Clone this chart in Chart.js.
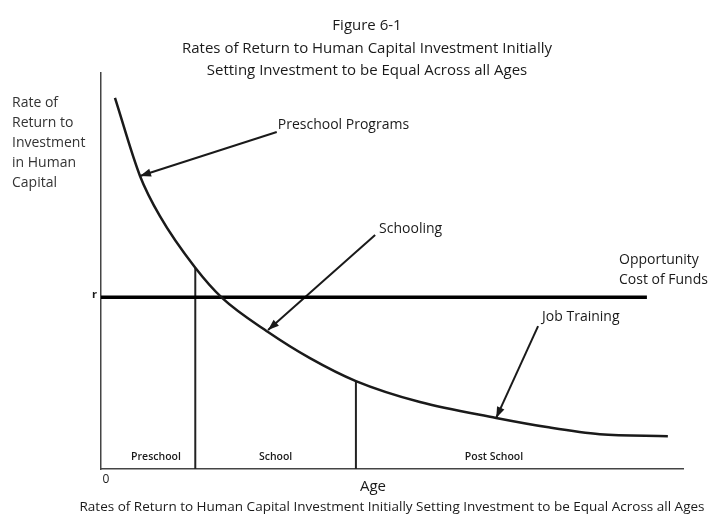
<!DOCTYPE html>
<html>
<head>
<meta charset="utf-8">
<script src="https://cdn.jsdelivr.net/npm/chart.js@4.4.0/dist/chart.umd.min.js"></script>
<style>
  html, body { margin: 0; padding: 0; background: #fff; }
</style>
</head>
<body>
<canvas id="returnsChart" width="715" height="516"></canvas>
<script>
// curve of returns (x = age, y = rate of return)
const curveX = [2.4, 6.7, 10.1, 16.2, 20.8, 28.7, 35.9, 43.8, 54.8, 67.9, 76.6, 85.7, 97.4];
const curveY = [93.7, 74.0, 63.9, 50.8, 43.2, 34.6, 28.0, 22.2, 16.9, 12.9, 10.6, 8.8, 8.3];

// opportunity cost of funds
const rateY = 43.4;
const rateEndX = 93.8;

// stage boundaries (preschool | school | post school)
const boundaryX = [16.2, 43.8];
const boundaryTop = [50.8, 22.2];
const stageLabels = ['Preschool', 'School', 'Post School'];

// pointer arrows: label, tail, head
const arrowLabels = ['Preschool Programs', 'Schooling', 'Job Training'];
const arrowTailX = [30.2, 47.1, 75.1];
const arrowTailY = [85.1, 59.1, 36.1];
const arrowHeadX = [6.7, 28.7, 67.9];
const arrowHeadY = [74.0, 35.1, 12.9];

const titleLines = ['Figure 6-1', 'Rates of Return to Human Capital Investment Initially', 'Setting Investment to be Equal Across all Ages'];
const yTitle = ['Rate of', 'Return to', 'Investment', 'in Human', 'Capital'];
const caption = 'Rates of Return to Human Capital Investment Initially Setting Investment to be Equal Across all Ages';

const FONT = '"Open Sans", "DejaVu Sans", sans-serif';
const INK = '#1a1a1a';

const datasets = [];
datasets.push({
    data: curveX.map((x, i) => ({ x: x, y: curveY[i] })),
    borderColor: INK, borderWidth: 2.5, cubicInterpolationMode: 'monotone'
});
datasets.push({
    data: [{ x: 0, y: rateY }, { x: rateEndX, y: rateY }],
    borderColor: '#000', borderWidth: 3.5
});
boundaryX.forEach((x, i) => {
    datasets.push({
        data: [{ x: x, y: 0 }, { x: x, y: boundaryTop[i] }],
        borderColor: '#222', borderWidth: 2
    });
});
arrowLabels.forEach((lbl, i) => {
    datasets.push({
        data: [{ x: arrowTailX[i], y: arrowTailY[i] }, { x: arrowHeadX[i], y: arrowHeadY[i] }],
        borderColor: INK, borderWidth: 2
    });
});

const textPlugin = {
    id: 'figureText',
    afterDatasetsDraw(chart) {
        const ctx = chart.ctx;
        const xs = chart.scales.x, ys = chart.scales.y;
        ctx.save();
        ctx.fillStyle = INK;
        ctx.textBaseline = 'middle';

        // arrowheads
        arrowLabels.forEach((lbl, i) => {
            const tx = xs.getPixelForValue(arrowTailX[i]), ty = ys.getPixelForValue(arrowTailY[i]);
            const hx = xs.getPixelForValue(arrowHeadX[i]), hy = ys.getPixelForValue(arrowHeadY[i]);
            const a = Math.atan2(hy - ty, hx - tx);
            ctx.beginPath();
            ctx.moveTo(hx, hy);
            ctx.lineTo(hx - 11 * Math.cos(a) + 4 * Math.sin(a), hy - 11 * Math.sin(a) - 4 * Math.cos(a));
            ctx.lineTo(hx - 11 * Math.cos(a) - 4 * Math.sin(a), hy - 11 * Math.sin(a) + 4 * Math.cos(a));
            ctx.closePath();
            ctx.fill();
        });

        // arrow labels
        ctx.font = '14px ' + FONT;
        ctx.textAlign = 'left';
        const offs = [[1, -7], [4, -6], [4, -9]];
        arrowLabels.forEach((lbl, i) => {
            const tx = xs.getPixelForValue(arrowTailX[i]), ty = ys.getPixelForValue(arrowTailY[i]);
            ctx.fillText(lbl, tx + offs[i][0], ty + offs[i][1]);
        });

        // opportunity cost label
        ctx.fillText('Opportunity', 619, 260);
        ctx.fillText('Cost of Funds', 619, 280);

        // y axis title
        ctx.fillStyle = '#333';
        yTitle.forEach((t, i) => ctx.fillText(t, 12, 103 + i * 20));

        // title
        ctx.fillStyle = INK;
        ctx.textAlign = 'center';
        ctx.font = '15px ' + FONT;
        titleLines.forEach((t, i) => ctx.fillText(t, 367, [26, 49, 71][i]));

        // r mark
        ctx.font = 'bold 11px ' + FONT;
        ctx.textAlign = 'right';
        ctx.fillText('r', 97, ys.getPixelForValue(rateY) - 2);

        // stage labels
        ctx.font = '600 10.5px ' + FONT;
        ctx.textAlign = 'center';
        const stageX = [xs.getPixelForValue(0) + 55, (xs.getPixelForValue(boundaryX[0]) + xs.getPixelForValue(boundaryX[1])) / 2, 494];
        stageLabels.forEach((t, i) => ctx.fillText(t, stageX[i], 457));

        // x axis texts
        ctx.font = '12px ' + FONT;
        ctx.fillText('0', 106, 480);
        ctx.font = '15px ' + FONT;
        ctx.fillText('Age', 373, 487);
        ctx.font = '13.5px ' + FONT;
        ctx.fillText(caption, 392, 507, 628);
        ctx.restore();
    }
};

new Chart(document.getElementById('returnsChart').getContext('2d'), {
    type: 'line',
    data: { datasets: datasets },
    options: {
        responsive: false,
        animation: false,
        devicePixelRatio: 1,
        layout: { padding: { left: 101, right: 32, top: 73, bottom: 47 } },
        elements: { point: { radius: 0 }, line: { fill: false } },
        scales: {
            x: {
                type: 'linear', min: 0, max: 100,
                ticks: { display: false },
                grid: { display: false, drawTicks: false },
                border: { display: true, color: '#444', width: 1.5 }
            },
            y: {
                type: 'linear', min: 0, max: 100,
                ticks: { display: false },
                grid: { display: false, drawTicks: false },
                border: { display: true, color: '#444', width: 1.5 }
            }
        },
        plugins: { legend: { display: false }, tooltip: { enabled: false }, title: { display: false } }
    },
    plugins: [textPlugin]
});
</script>
</body>
</html>
